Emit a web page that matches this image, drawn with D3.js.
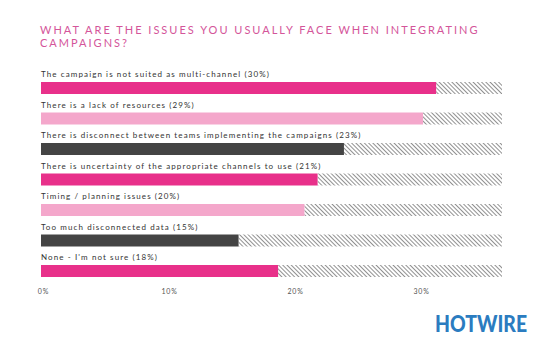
<!DOCTYPE html>
<html>
<head>
<meta charset="utf-8">
<script src="https://cdn.jsdelivr.net/npm/d3@7"></script>
<style>
  html, body { margin: 0; padding: 0; background: #fff; }
  svg { display: block; }
</style>
</head>
<body>
<svg id="chart" width="543" height="347"></svg>
<script>
// ========= Data
const titleLines = ["WHAT ARE THE ISSUES YOU USUALLY FACE WHEN INTEGRATING", "CAMPAIGNS?"];
const issues = [
  "The campaign is not suited as multi-channel",
  "There is a lack of resources",
  "There is disconnect between teams implementing the campaigns",
  "There is uncertainty of the appropriate channels to use",
  "Timing / planning issues",
  "Too much disconnected data",
  "None - I'm not sure"
];
const shares = [30, 29, 23, 21, 20, 15, 18];
const barColors = ["#e8308a", "#f4a7cb", "#444444", "#e8308a", "#f4a7cb", "#444444", "#e8308a"];
const tickValues = [0, 10, 20, 30];

const rows = issues.map((label, i) => ({ label, value: shares[i], color: barColors[i] }));

// ========= Layout
const svg = d3.select("#chart");
const trackMax = 35;
const x = d3.scaleLinear().domain([0, trackMax]).range([41, 502]);
// the printed axis sits a little off the bars in the original
const xAxisScale = d3.scaleLinear().domain([0, 30]).range([43, 421]);
const y = d3.scalePoint().domain(issues).range([82, 265]);
const barH = 12;

// hatch pattern for the remaining track
const defs = svg.append("defs");
defs.append("pattern")
  .attr("id", "hatch")
  .attr("patternUnits", "userSpaceOnUse")
  .attr("width", 3)
  .attr("height", 3)
  .attr("patternTransform", "rotate(-45)")
  .append("line")
  .attr("x1", 0).attr("y1", 0)
  .attr("x2", 0).attr("y2", 3)
  .attr("stroke", "#555")
  .attr("stroke-width", 1.3);

// ========= Title
svg.append("text")
  .attr("x", 40)
  .attr("y", 34)
  .attr("font-family", "Lato, 'Open Sans', sans-serif")
  .attr("font-size", 11)
  .attr("letter-spacing", "2px")
  .attr("fill", "#d4559a")
  .selectAll("tspan")
  .data(titleLines)
  .join("tspan")
  .attr("x", 40)
  .attr("dy", (d, i) => i === 0 ? 0 : 13)
  .text(d => d);

// ========= Bars
const g = svg.append("g");

g.selectAll("rect.track")
  .data(rows)
  .join("rect")
  .attr("class", "track")
  .attr("x", d => x(d.value))
  .attr("y", d => y(d.label))
  .attr("width", d => x(trackMax) - x(d.value))
  .attr("height", barH)
  .attr("fill", "url(#hatch)");

g.selectAll("rect.bar")
  .data(rows)
  .join("rect")
  .attr("class", "bar")
  .attr("x", x(0))
  .attr("y", d => y(d.label))
  .attr("width", d => x(d.value) - x(0))
  .attr("height", barH)
  .attr("fill", d => d.color);

g.selectAll("text.label")
  .data(rows)
  .join("text")
  .attr("class", "label")
  .attr("x", x(0))
  .attr("y", d => y(d.label) - 5)
  .attr("font-family", "Lato, 'Open Sans', sans-serif")
  .attr("font-size", 8)
  .attr("letter-spacing", "1.1px")
  .attr("fill", "#333")
  .text(d => `${d.label} (${d.value}%)`);

// ========= Axis (labels only)
const axis = svg.append("g")
  .attr("transform", "translate(0,286)")
  .call(d3.axisBottom(xAxisScale).tickValues(tickValues).tickFormat(d => d + "%").tickSize(0));
axis.select(".domain").remove();
axis.selectAll("text")
  .attr("font-family", "Lato, 'Open Sans', sans-serif")
  .attr("font-size", 7)
  .attr("letter-spacing", "0.8px")
  .attr("fill", "#555");

// ========= Logo
svg.append("text")
  .attr("x", 435)
  .attr("y", 332)
  .attr("font-family", "Lato, 'DejaVu Sans', sans-serif")
  .attr("font-weight", 900)
  .attr("font-size", 23)
  .attr("textLength", 92)
  .attr("lengthAdjust", "spacingAndGlyphs")
  .attr("fill", "#2b7cc0")
  .text("HOTWIRE");
</script>
</body>
</html>
